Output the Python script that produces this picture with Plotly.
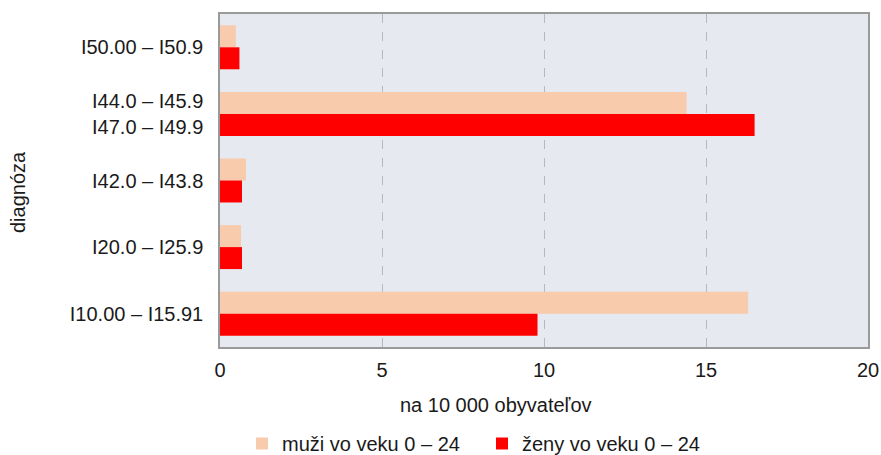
import plotly.graph_objects as go

categories = ["I50.00 – I50.9", "I44.0 – I45.9<br>I47.0 – I49.9", "I42.0 – I43.8", "I20.0 – I25.9", "I10.00 – I15.91"]
muzi = [0.49, 14.4, 0.8, 0.65, 16.3]
zeny = [0.6, 16.5, 0.68, 0.68, 9.8]
series_names = ["muži vo veku 0 – 24", "ženy vo veku 0 – 24"]
x_ticks = [0, 5, 10, 15, 20]

FONT = "Liberation Sans, Arial, sans-serif"
# page margin is removed in post_script, so figure pixels == screen pixels
W, H = 881, 455
L, R, T, B = 220, 13, 14, 108
PX0, PX1, PY0, PY1 = 220, 868, 14, 347


def px_x(x):
    return (x - PX0) / (PX1 - PX0)


def px_y(y):
    return (PY1 - y) / (PY1 - PY0)


fig = go.Figure()
fig.add_trace(go.Bar(y=categories, x=muzi, orientation="h", name=series_names[0],
                     marker=dict(color="#f8cbad", line=dict(width=0))))
fig.add_trace(go.Bar(y=categories, x=zeny, orientation="h", name=series_names[1],
                     marker=dict(color="#ff0000", line=dict(width=0))))

fig.update_layout(
    width=W, height=H,
    margin=dict(l=L, r=R, t=T, b=B, pad=0, autoexpand=False),
    paper_bgcolor="white", plot_bgcolor="#e6e9ef",
    barmode="group", bargap=0.34, bargroupgap=0,
    font=dict(family=FONT, size=20, color="#1a1a1a"),
    showlegend=True,
    legend=dict(orientation="h", x=px_x(242), xanchor="left", y=px_y(424), yanchor="top",
                font=dict(size=20), entrywidth=195, entrywidthmode="pixels",
                itemwidth=30, tracegroupgap=0, bgcolor="rgba(0,0,0,0)"),
    xaxis=dict(range=[0, 20], tickvals=x_ticks, showgrid=True, gridcolor="#b8b8b8",
               griddash="dash", gridwidth=1, zeroline=False, showline=True, mirror=True,
               linecolor="#9a9a9a", linewidth=1.5, ticks="outside", ticklen=4,
               tickcolor="rgba(0,0,0,0)", tickfont=dict(size=20)),
    yaxis=dict(autorange="reversed", showgrid=False, zeroline=False, showline=True, mirror=True,
               linecolor="#9a9a9a", linewidth=1.5, ticks="outside", ticklen=11,
               tickcolor="rgba(0,0,0,0)", tickfont=dict(size=20)),
    annotations=[
        dict(text="na 10 000 obyvateľov", xref="paper", yref="paper",
             x=px_x(496), y=px_y(405), xanchor="center", yanchor="middle",
             showarrow=False, font=dict(size=20)),
        dict(text="diagnóza", xref="paper", yref="paper", x=px_x(18),
             y=px_y(192), xanchor="center", yanchor="middle", textangle=-90,
             showarrow=False, font=dict(size=20)),
    ],
)

fig.write_html(
    "out.html",
    config={"displayModeBar": False},
    post_script=(
        "document.documentElement.style.margin='0';"
        "document.body.style.margin='0';"
        "document.documentElement.style.overflow='hidden';"
        "document.body.style.overflow='hidden';"
    ),
)
